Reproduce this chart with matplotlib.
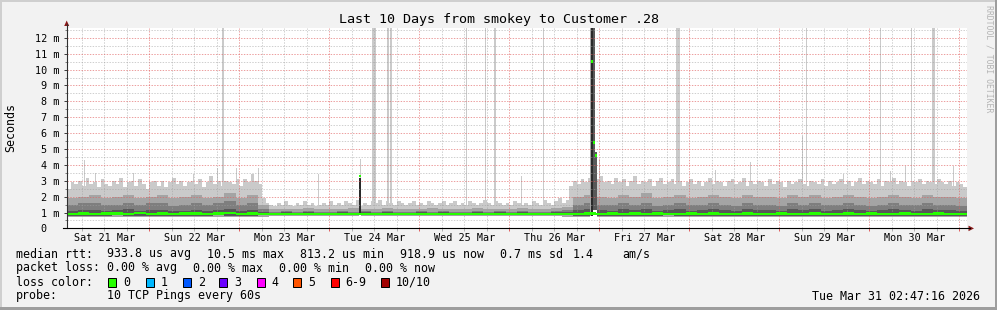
import numpy as np
import matplotlib
matplotlib.use("Agg")
import matplotlib.pyplot as plt
from matplotlib.patches import Polygon, Rectangle
from matplotlib.lines import Line2D
from matplotlib.ticker import MultipleLocator

plt.rcParams['font.family'] = ['DejaVu Sans Mono', 'DejaVu Sans']

W, H = 997, 310

# ------------------------------------------------------------------ data
title = "Last 10 Days from smokey to Customer .28"
day_labels = ["Sat 21 Mar", "Sun 22 Mar", "Mon 23 Mar", "Tue 24 Mar", "Wed 25 Mar",
              "Thu 26 Mar", "Fri 27 Mar", "Sat 28 Mar", "Sun 29 Mar", "Mon 30 Mar"]
ytick_values = list(range(0, 13))
ytick_labels = ["0  ", "1 m", "2 m", "3 m", "4 m", "5 m", "6 m", "7 m", "8 m",
                "9 m", "10 m", "11 m", "12 m"]

# hours since Sat 21 Mar 00:00; values in milliseconds
hour_start = 2          # first hourly bin
# top of the outermost smoke (max ping), hourly
top1 = [
    # Sat 21 - Mon 23 early (heavy)
    2.5, 2.9, 2.8, 3.0, 2.7, 3.2, 2.8, 2.9, 2.6, 3.1,
    2.8, 2.7, 3.0, 2.8, 3.2, 2.6, 2.9, 3.0, 2.7, 3.1,
    2.8, 2.5, 2.9, 3.0, 2.7, 3.0, 2.6, 2.9, 3.2, 2.8,
    3.0, 2.7, 2.9, 3.0, 2.8, 3.1, 2.6, 2.9, 3.3, 2.8,
    3.0, 2.7, 3.0, 2.9, 2.8, 3.1, 2.7, 3.1, 2.9, 3.4,
    3.0, 2.8,
    # Mon 23 06h - Thu 26 16h (quiet)
    1.9, 1.6, 1.5, 1.4, 1.6, 1.5, 1.7, 1.5, 1.4, 1.6,
    1.5, 1.7, 1.5, 1.6, 1.4, 1.5, 1.6, 1.5, 1.7, 1.5,
    1.6, 1.5, 1.7, 1.6, 1.5, 1.8, 1.4, 1.6, 1.5, 1.7,
    1.6, 1.8, 1.5, 1.7, 1.6, 1.5, 1.7, 1.6, 1.5, 1.6,
    1.7, 1.5, 1.6, 1.5, 1.7, 1.6, 1.5, 1.6, 1.7, 1.5,
    1.6, 1.7, 1.5, 1.6, 1.5, 1.7, 1.6, 1.5, 1.6, 1.8,
    1.6, 1.5, 1.7, 1.6, 1.5, 1.6, 1.5, 1.7, 1.6, 1.5,
    1.6, 1.5, 1.7, 1.6, 1.5, 1.8, 1.6, 1.5, 1.7, 1.9,
    1.6, 1.8,
    # Thu 26 16h - Tue 31 (heavy)
    2.7, 3.0, 2.8, 3.1, 2.9, 3.2, 3.0, 3.1, 3.3, 2.9,
    3.0, 2.8, 3.2, 2.9, 3.1, 2.7, 3.0, 3.3, 2.8, 3.0,
    2.9, 3.1, 2.7, 3.0, 3.2, 2.8, 2.9, 3.1, 2.8, 3.0,
    2.7, 2.9, 3.1, 2.8, 3.0, 2.7, 2.9, 3.2, 2.8, 3.0,
    2.9, 2.7, 3.0, 3.1, 2.8, 2.9, 3.2, 2.7, 3.0, 2.8,
    3.0, 2.9, 2.7, 3.1, 2.8, 3.0, 2.9, 2.6, 3.0, 2.8,
    2.9, 3.1, 2.8, 2.7, 3.0, 2.9, 2.8, 3.1, 2.7, 3.0,
    2.8, 2.9, 3.1, 2.8, 3.0, 2.7, 2.9, 3.2, 2.8, 3.0,
    2.9, 2.8, 3.1, 2.7, 3.0, 2.9, 3.2, 2.8, 3.0, 2.9,
    2.7, 3.0, 2.9, 3.1, 2.8, 3.0, 2.9, 2.8, 3.1, 2.9,
    2.8, 3.0, 2.7, 2.9, 2.8, 2.6,
]

# 3-hourly inner smoke levels
top2 = [
    1.9, 2.0, 2.1, 1.9, 2.0, 2.1, 1.9, 2.0, 2.1, 1.9,
    2.0, 2.1, 1.9, 2.0, 2.2, 1.9, 2.1, 1.5,
    1.2, 1.25, 1.2, 1.3, 1.2, 1.25, 1.2, 1.3, 1.25, 1.2,
    1.3, 1.25, 1.2, 1.25, 1.3, 1.2, 1.25, 1.2, 1.3, 1.25,
    1.2, 1.25, 1.3, 1.2, 1.25, 1.3, 1.35,
    2.0, 2.1, 2.0, 1.9, 2.1, 2.0, 2.2, 1.9, 2.0, 2.1,
    1.9, 2.0, 2.1, 2.0, 1.9, 2.1, 2.0, 2.0, 1.9, 2.1,
    2.0, 2.1, 1.9, 2.0, 2.1, 2.0, 1.9, 2.0, 2.1, 2.0,
    1.9, 2.1, 2.0, 2.0, 1.9,
]
top3 = [
    1.5, 1.6, 1.6, 1.5, 1.5, 1.6, 1.5, 1.6, 1.6, 1.4,
    1.5, 1.6, 1.5, 1.6, 1.7, 1.5, 1.6, 1.2,
    1.05, 1.1, 1.05, 1.1, 1.05, 1.05, 1.1, 1.05, 1.1, 1.05,
    1.1, 1.05, 1.05, 1.1, 1.05, 1.1, 1.05, 1.05, 1.1, 1.05,
    1.1, 1.05, 1.1, 1.05, 1.05, 1.1, 1.15,
    1.5, 1.6, 1.5, 1.5, 1.6, 1.5, 1.6, 1.4, 1.5, 1.6,
    1.5, 1.5, 1.6, 1.5, 1.4, 1.6, 1.5, 1.5, 1.4, 1.6,
    1.5, 1.6, 1.5, 1.5, 1.6, 1.5, 1.4, 1.5, 1.6, 1.5,
    1.5, 1.6, 1.5, 1.5, 1.4,
]
top4 = [
    1.1, 1.15, 1.15, 1.1, 1.15, 1.2, 1.1, 1.15, 1.15, 1.1,
    1.1, 1.15, 1.1, 1.15, 1.2, 1.1, 1.15, 1.05,
    1.0, 1.02, 1.0, 1.02, 1.0, 1.0, 1.02, 1.0, 1.02, 1.0,
    1.02, 1.0, 1.0, 1.02, 1.0, 1.02, 1.0, 1.0, 1.02, 1.0,
    1.02, 1.0, 1.02, 1.0, 1.0, 1.02, 1.05,
    1.15, 1.2, 1.15, 1.1, 1.2, 1.15, 1.2, 1.1, 1.15, 1.2,
    1.1, 1.15, 1.2, 1.15, 1.1, 1.2, 1.15, 1.15, 1.1, 1.2,
    1.15, 1.2, 1.1, 1.15, 1.2, 1.15, 1.1, 1.15, 1.2, 1.15,
    1.1, 1.2, 1.15, 1.15, 1.1,
]
ping_min = [
    0.72, 0.73, 0.71, 0.72, 0.74, 0.72, 0.71, 0.73, 0.72, 0.72,
    0.71, 0.73, 0.72, 0.74, 0.71, 0.72, 0.73, 0.74,
    0.76, 0.75, 0.77, 0.76, 0.75, 0.76, 0.77, 0.76, 0.75, 0.76,
    0.77, 0.76, 0.75, 0.76, 0.76, 0.77, 0.75, 0.76, 0.76, 0.77,
    0.76, 0.75, 0.76, 0.77, 0.76, 0.75, 0.74,
    0.72, 0.71, 0.73, 0.72, 0.72, 0.71, 0.73, 0.72, 0.74, 0.72,
    0.71, 0.72, 0.73, 0.72, 0.71, 0.72, 0.73, 0.72, 0.72, 0.71,
    0.73, 0.72, 0.72, 0.71, 0.73, 0.72, 0.72, 0.71, 0.72, 0.73,
    0.72, 0.71, 0.72, 0.73, 0.72,
]
ping_low = [
    0.80, 0.81, 0.79, 0.80, 0.82, 0.80, 0.79, 0.81, 0.80, 0.80,
    0.79, 0.81, 0.80, 0.82, 0.79, 0.80, 0.81, 0.82,
    0.83, 0.83, 0.84, 0.83, 0.82, 0.83, 0.84, 0.83, 0.83, 0.83,
    0.84, 0.83, 0.82, 0.83, 0.83, 0.84, 0.83, 0.83, 0.83, 0.84,
    0.83, 0.82, 0.83, 0.84, 0.83, 0.83, 0.82,
    0.80, 0.79, 0.81, 0.80, 0.80, 0.79, 0.81, 0.80, 0.82, 0.80,
    0.79, 0.80, 0.81, 0.80, 0.79, 0.80, 0.81, 0.80, 0.80, 0.79,
    0.81, 0.80, 0.80, 0.79, 0.81, 0.80, 0.80, 0.79, 0.80, 0.81,
    0.80, 0.79, 0.80, 0.81, 0.80,
]
median = [
    0.91, 0.94, 0.90, 0.95, 0.93, 0.91, 0.96, 0.92, 0.94, 0.90,
    0.93, 0.95, 0.91, 0.94, 0.96, 0.92, 0.94, 0.91,
    0.90, 0.90, 0.91, 0.90, 0.90, 0.91, 0.90, 0.90, 0.91, 0.90,
    0.90, 0.91, 0.90, 0.90, 0.91, 0.90, 0.90, 0.91, 0.90, 0.91,
    0.90, 0.90, 0.91, 0.90, 0.90, 0.91, 0.91,
    0.92, 0.95, 0.91, 0.94, 0.92, 0.95, 0.91, 0.94, 0.92, 0.91,
    0.94, 0.92, 0.95, 0.91, 0.92, 0.94, 0.91, 0.92, 0.95, 0.92,
    0.91, 0.94, 0.92, 0.91, 0.94, 0.92, 0.95, 0.91, 0.92, 0.94,
    0.91, 0.92, 0.94, 0.92, 0.91,
]

# narrow outliers: start hour, duration (h), top (ms); 13 = off the chart
out_start = [6.6, 9.5, 19.7, 35.7, 42.1, 43.3, 47.1, 53.0, 69.0, 80.2,
             83.4, 87.3, 88.2, 108.4, 113.4, 115.9, 123.1, 128.9, 143.9,
             164.5, 174.8, 184.2, 198.0, 199.0, 209.0, 218.8, 221.5, 225.5,
             227.0, 232.7, 238.2]
out_dur = [0.27, 0.27, 0.27, 0.27, 0.27, 0.5, 0.27, 0.27, 0.27, 0.27,
           1.0, 0.5, 0.4, 0.4, 0.4, 0.6, 0.27, 0.4, 0.27,
           1.0, 0.27, 0.27, 0.27, 0.4, 0.27, 0.4, 0.27, 0.27,
           0.4, 0.8, 0.27]
out_top = [4.3, 3.5, 3.5, 3.4, 3.8, 13, 3.8, 3.8, 3.4, 4.4,
           13, 13, 13, 13, 13, 13, 3.3, 13, 4.4,
           13, 3.7, 4.2, 5.8, 13, 3.4, 13, 3.6, 3.9,
           13, 13, 3.9]

# dense (all pings high) events: start hour, duration, low, top, median, shade level
ev_start = [80.0, 141.6, 141.87, 142.4, 142.93]
ev_dur = [0.5, 0.27, 0.53, 0.53, 0.53]
ev_low = [0.85, 0.8, 0.78, 1.15, 1.15]
ev_top = [3.2, 13, 13, 13, 4.8]
ev_med = [3.3, np.nan, 10.5, 5.4, 4.6]
ev_level = [5, 2, 5, 4, 4]

assert len(top1) == 240
for arr in (top2, top3, top4, ping_min, ping_low, median):
    assert len(arr) == 80, len(arr)

# ------------------------------------------------------------------ style
BG = '#f2f2f2'
shades = {1: '#cacaca', 2: '#a4a4a4', 3: '#7e7e7e', 4: '#585858', 5: '#2a2a2a'}
GREEN = '#26ff00'
AX_L, AX_R, AX_B, AX_T = 66.7, 966.7, 228.4, 28.3
MED_HALF = 0.075


def fx(x):
    return x / W


def fy(y):
    return 1 - y / H


fig = plt.figure(figsize=(W / 100, H / 100), dpi=100, facecolor=BG)

# 3D border
fig.patches.append(Rectangle((0, fy(2)), 1, 2 / H, transform=fig.transFigure,
                             color='#cfcfcf', lw=0))
fig.patches.append(Rectangle((0, 0), 2 / W, 1, transform=fig.transFigure,
                             color='#cfcfcf', lw=0))
fig.patches.append(Rectangle((0, 0), 1, 3 / H, transform=fig.transFigure,
                             color='#9e9e9e', lw=0))
fig.patches.append(Rectangle((fx(W - 2), 0), 2 / W, 1, transform=fig.transFigure,
                             color='#9e9e9e', lw=0))

ax = fig.add_axes([fx(AX_L), fy(AX_B), (AX_R - AX_L) / W, (AX_B - AX_T) / H])
ax.set_facecolor('white')
x0 = (AX_L - 59.33) / 3.75
ax.set_xlim(x0, x0 + 240)
ax.set_ylim(0, 12.6)


def stepfill(starts, width, lo, hi, color, z):
    starts = np.asarray(starts, float)
    x = np.append(starts, starts[-1] + width)
    lo = np.broadcast_to(np.asarray(lo, float), starts.shape)
    hi = np.asarray(hi, float)
    lo = np.append(lo, lo[-1])
    hi = np.append(hi, hi[-1])
    ax.fill_between(x, lo, hi, step='post', color=color, lw=0, zorder=z)


h1 = hour_start + np.arange(len(top1))
h3 = hour_start + 3 * np.arange(len(top2))

stepfill(h1, 1, 0, top1, shades[1], 1.0)
for s, d, t in zip(out_start, out_dur, out_top):
    ax.fill_between([s, s + d], 0, t, color=shades[1], lw=0, zorder=1.1)
stepfill(h3, 3, 0, ping_min, 'white', 1.2)
stepfill(h3, 3, ping_min, top2, shades[2], 1.3)
stepfill(h3, 3, ping_low, top3, shades[3], 1.4)
stepfill(h3, 3, ping_low, top4, shades[4], 1.5)

for s, d, lo, t, lv in zip(ev_start, ev_dur, ev_low, ev_top, ev_level):
    ax.fill_between([s, s + d], 0, lo, color='white', lw=0, zorder=1.8)
    ax.fill_between([s, s + d], lo, t, color=shades[lv], lw=0, zorder=1.9)

# median band
med = np.asarray(median)
stepfill(h3, 3, med - MED_HALF, med + MED_HALF, GREEN, 3)
for s, d, m in zip(ev_start, ev_dur, ev_med):
    if not np.isnan(m):
        ax.fill_between([s, s + d], m - MED_HALF, m + MED_HALF, color=GREEN, lw=0,
                        zorder=3.1)

# grid
ax.set_axisbelow(False)
ax.set_yticks(ytick_values)
ax.set_yticklabels(ytick_labels)
ax.yaxis.set_minor_locator(MultipleLocator(0.5))
ax.set_xticks(np.arange(24, 241, 24))
ax.xaxis.set_minor_locator(MultipleLocator(6))
ax.grid(which='major', color='#e06060', alpha=0.6, lw=0.72, ls=(0, (1.4, 1.4)))
ax.grid(which='minor', color='#a0a0a0', alpha=0.5, lw=0.72, ls=(0, (1.4, 1.4)))
for sp in ax.spines.values():
    sp.set_visible(False)
ax.tick_params(axis='y', which='major', length=2.2, width=0.72, color='#404040',
               pad=3.2, labelsize=7.3)
ax.tick_params(axis='y', which='minor', length=1.4, width=0.72, color='#808080')
ax.tick_params(axis='x', which='major', length=2.2, width=0.72, color='#e06060',
               labelbottom=False)
ax.tick_params(axis='x', which='minor', length=2.2, width=0.72, color='#b0b0b0')

for i, lab in enumerate(day_labels):
    ax.text(12 + 24 * i, -9.6 / (AX_B - AX_T), lab, transform=ax.get_xaxis_transform(),
            ha='center', va='center', fontsize=7.3)

# axis lines and arrows
fig.add_artist(Line2D([fx(AX_L), fx(AX_L)], [fy(AX_B), fy(24)], color='#303030', lw=0.8))
fig.add_artist(Line2D([fx(63), fx(970)], [fy(AX_B), fy(AX_B)], color='black', lw=0.8))
fig.add_artist(Polygon([(fx(64.2), fy(26)), (fx(69.2), fy(26)), (fx(66.7), fy(20.5))],
                       closed=True, transform=fig.transFigure, color='#8b1a1a', lw=0))
fig.add_artist(Polygon([(fx(968.5), fy(225.6)), (fx(968.5), fy(231.2)), (fx(974), fy(AX_B))],
                       closed=True, transform=fig.transFigure, color='#8b1a1a', lw=0))

# texts
fig.text(0.5, fy(20), title, ha='center', va='center', fontsize=9.6)
fig.text(fx(11), fy(128), "Seconds", rotation=90, ha='center', va='center', fontsize=8.4)
fig.text(fx(988.5), fy(59), "RRDTOOL / TOBI OETIKER", rotation=270, ha='center',
         va='center', fontsize=5.9, color='#b4b4b4')

FS = 8.4
rows = [
    (254, [(16, "median rtt:"), (107, "933.8 us avg"), (207, "10.5 ms max"),
           (300, "813.2 us min"), (400, "918.9 us now"), (500, "0.7 ms sd"),
           (573, "1.4"), (622, "am/s")]),
    (268, [(16, "packet loss:"), (107, "0.00 % avg"), (193, "0.00 % max"),
           (279, "0.00 % min"), (365, "0.00 % now")]),
    (282, [(16, "loss color:")]),
    (296, [(16, "probe:"), (107, "10 TCP Pings every 60s")]),
]
for y, items in rows:
    for x, s in items:
        fig.text(fx(x), fy(y), s, ha='left', va='center', fontsize=FS)

loss_labels = ["0", "1", "2", "3", "4", "5", "6-9", "10/10"]
loss_colors = ['#26ff00', '#00b8ff', '#0059ff', '#6a00ff', '#ff00ff', '#ff5500',
               '#ff0000', '#a10000']
box_x = [108.3, 145.7, 182.7, 219.3, 256.7, 293.3, 330.7, 381.0]
for bx, lab, c in zip(box_x, loss_labels, loss_colors):
    fig.patches.append(Rectangle((fx(bx), fy(286.5)), 7.8 / W, 8.2 / H,
                                 transform=fig.transFigure, facecolor=c,
                                 edgecolor='black', lw=0.72))
    fig.text(fx(bx + 15), fy(282), lab, ha='left', va='center', fontsize=FS)

fig.text(fx(980), fy(296), "Tue Mar 31 02:47:16 2026", ha='right', va='center', fontsize=FS)

fig.savefig("out.png", dpi=100, facecolor=BG)
